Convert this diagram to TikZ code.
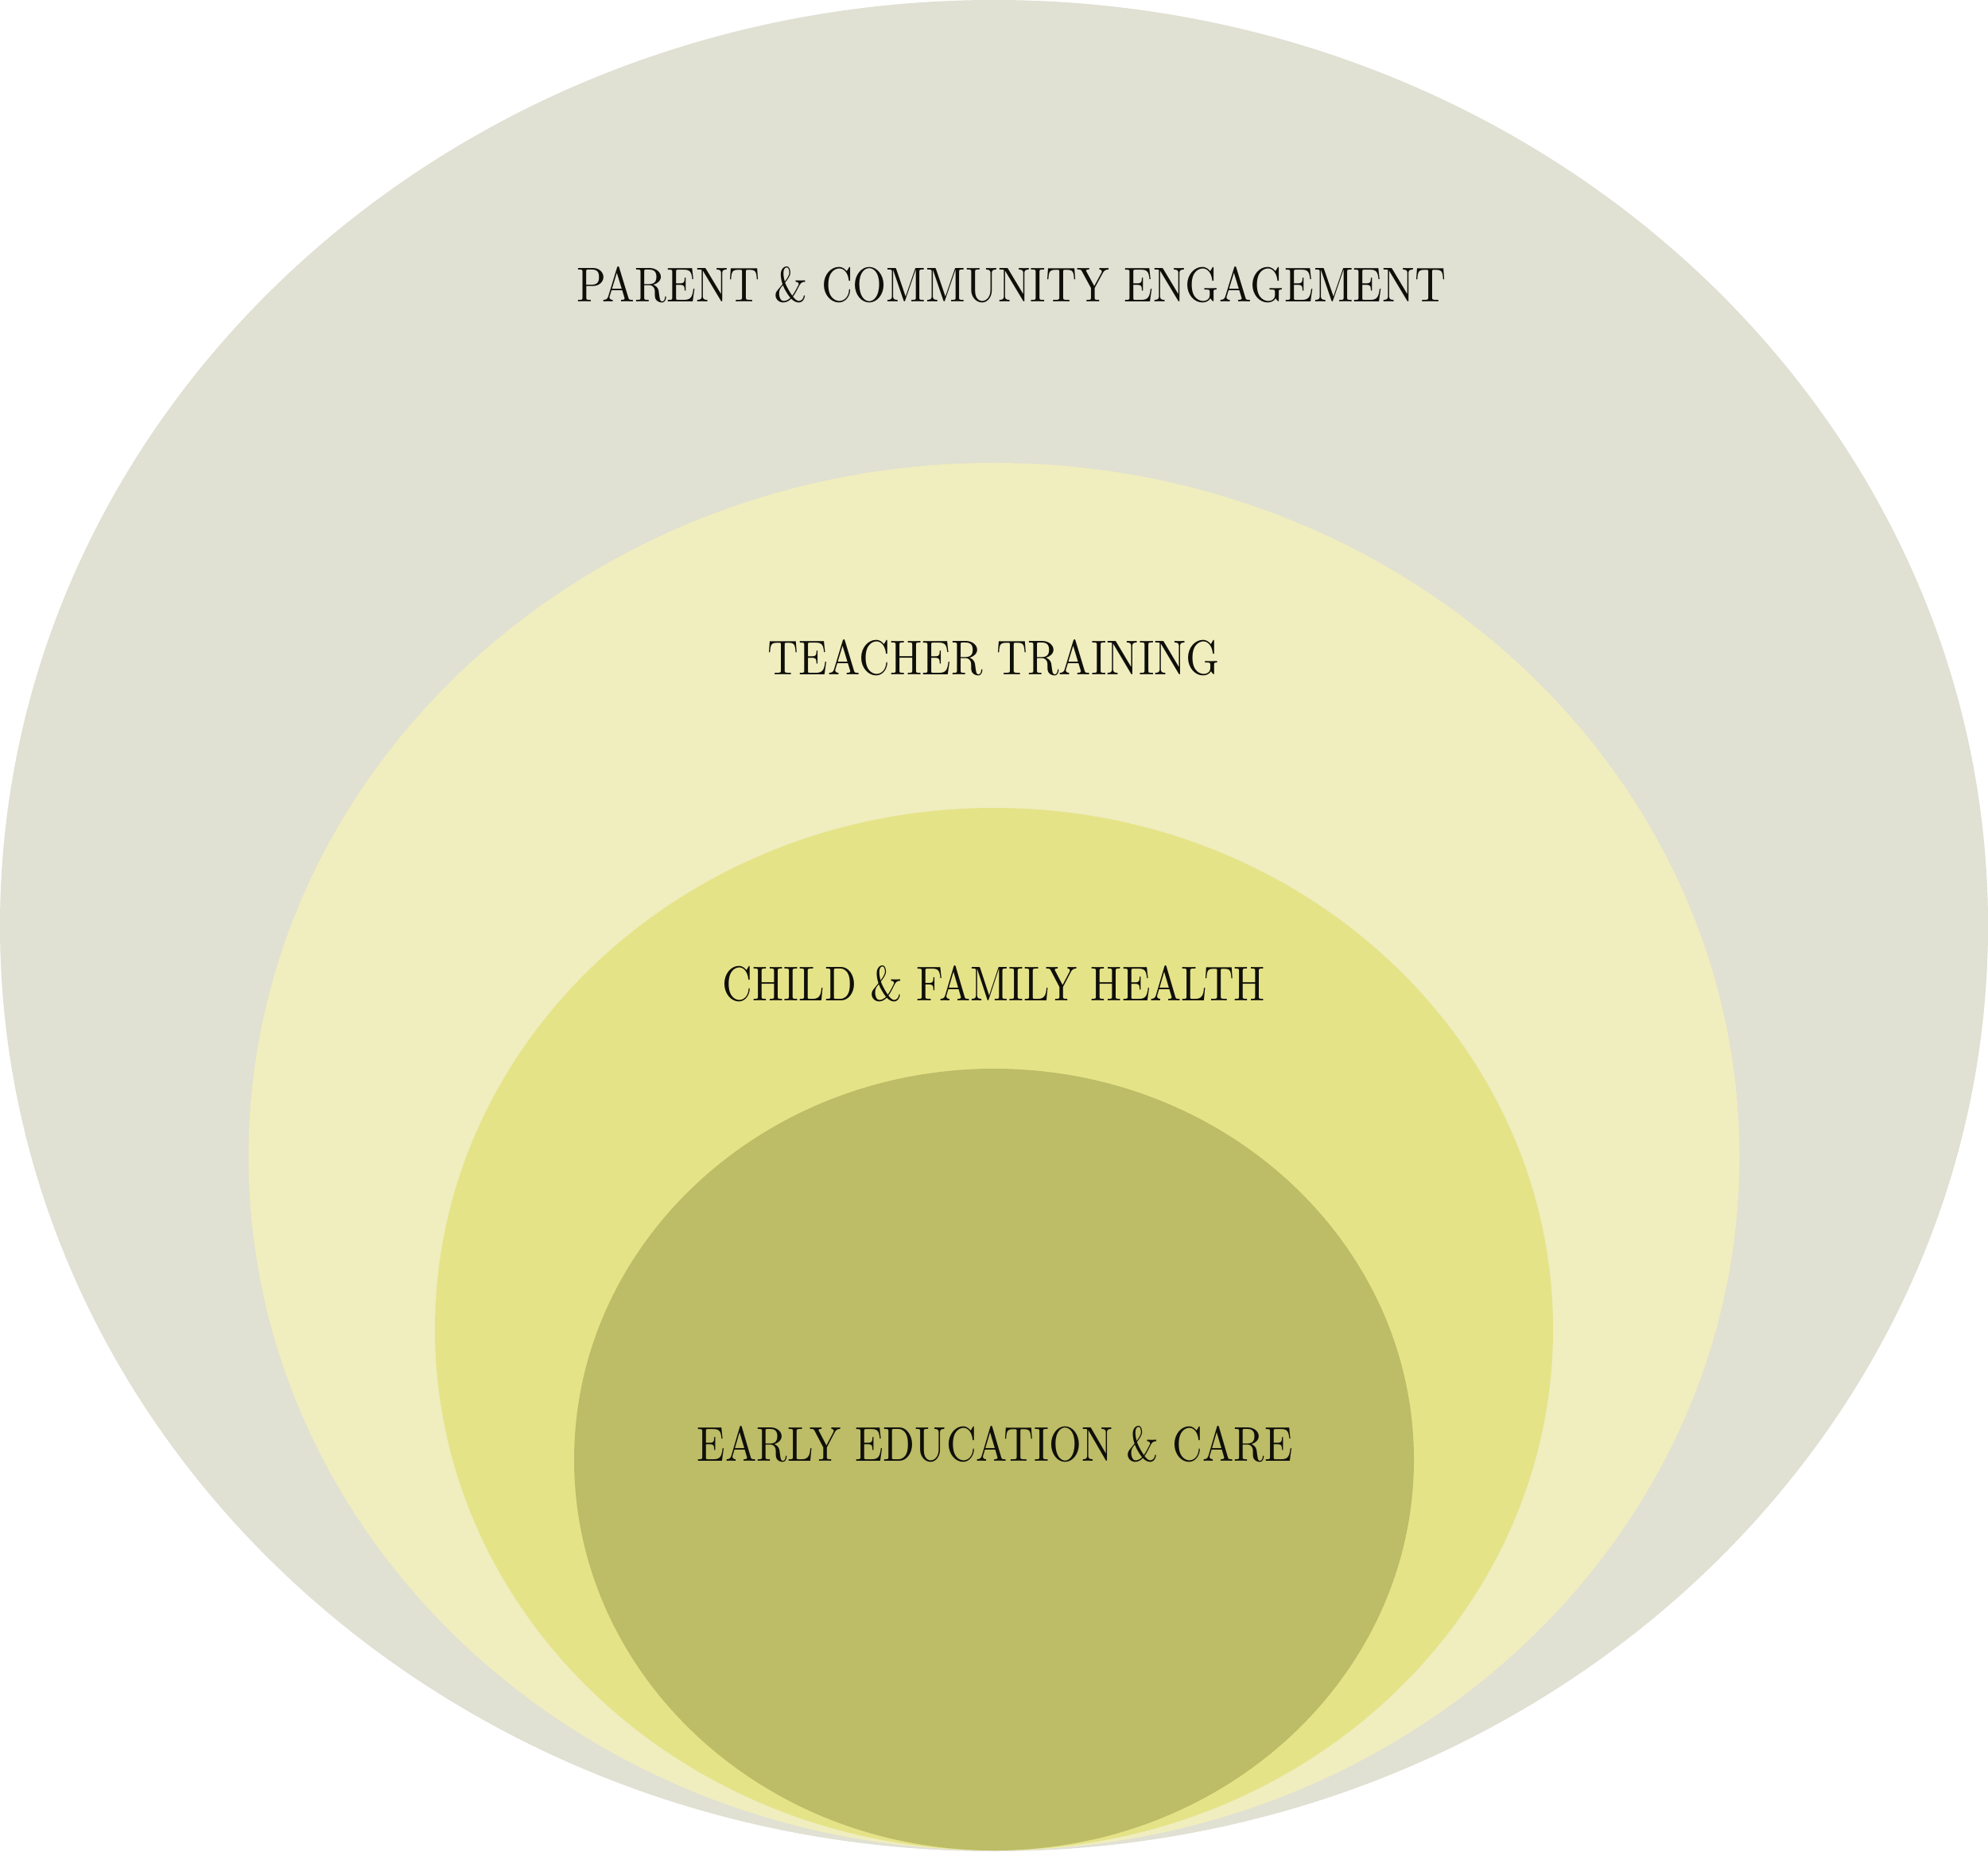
\documentclass[tikz,border=0pt]{standalone}
\usepackage{graphicx}
\definecolor{ringA}{RGB}{224,224,211}
\definecolor{ringB}{RGB}{240,237,191}
\definecolor{ringC}{RGB}{229,227,136}
\definecolor{ringD}{RGB}{189,188,103}
\definecolor{inkc}{RGB}{15,15,10}
\begin{document}
\begin{tikzpicture}[
  lbl/.style={inner sep=0pt, text=inkc, font=\rmfamily}
]
\useasboundingbox (0,0) rectangle (25,23.28);
\fill[white] (0,0) rectangle (25,23.28);
\fill[ringA] (12.5,11.64) ellipse [x radius=12.5, y radius=11.64];
\fill[ringB] (12.5,8.735) ellipse [x radius=9.375, y radius=8.725];
\fill[ringC] (12.5,6.565) ellipse [x radius=7.03, y radius=6.555];
\fill[ringD] (12.5,4.925) ellipse [x radius=5.28, y radius=4.915];
\node[lbl] (pce) at (12.72,19.70) {\resizebox{10.93cm}{0.44cm}{PARENT \& COMMUNITY ENGAGEMENT}};
\node[lbl] (tt) at (12.50,15.01) {\resizebox{5.68cm}{0.44cm}{TEACHER TRAINING}};
\node[lbl] (cfh) at (12.50,10.91) {\resizebox{6.82cm}{0.44cm}{CHILD \& FAMILY HEALTH}};
\node[lbl] (eec) at (12.515,5.12) {\resizebox{7.49cm}{0.44cm}{EARLY EDUCATION \& CARE}};
\end{tikzpicture}
\end{document}
